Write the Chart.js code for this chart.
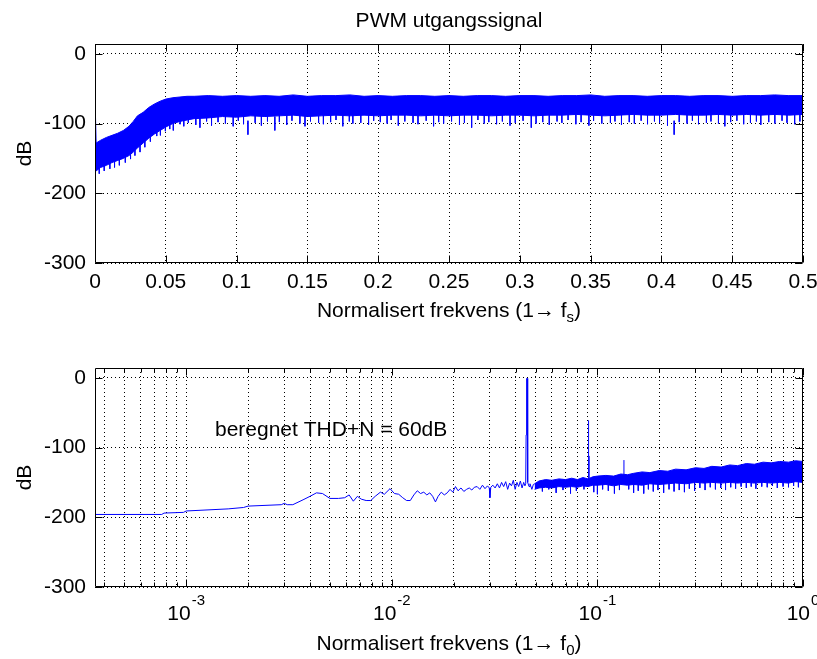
<!DOCTYPE html>
<html>
<head>
<meta charset="utf-8">
<script src="https://cdn.jsdelivr.net/npm/chart.js@4/dist/chart.umd.min.js"></script>
<style>
    body { margin: 0; background: #fff; }
    canvas { position: absolute; left: 0; }
    #spectrum { top: 0; }
    #thd { top: 330px; }
</style>
</head>
<body>
<canvas id="spectrum" width="817" height="330"></canvas>
<canvas id="thd" width="817" height="329"></canvas>
<script>
//Data

// top plot: noise band (upper / lower edge), normalised to fs
var topFreq = [0, 0.0008, 0.004, 0.008, 0.012, 0.016, 0.02, 0.024, 0.027, 0.03, 0.034, 0.038, 0.042, 0.046, 0.05, 0.055, 0.06, 0.065, 0.07,
    0.08, 0.09, 0.1, 0.11, 0.12, 0.13, 0.14, 0.15, 0.16, 0.17, 0.18, 0.19, 0.2, 0.21, 0.22, 0.23, 0.24, 0.25, 0.26, 0.27, 0.28, 0.29,
    0.3, 0.31, 0.32, 0.33, 0.34, 0.35, 0.36, 0.37, 0.38, 0.39, 0.4, 0.41, 0.42, 0.43, 0.44, 0.45, 0.46, 0.47, 0.48, 0.49, 0.5];
var topUpper = [-61, -128, -124, -120, -117, -114, -110, -104, -97, -89, -84, -77, -72, -68, -65, -63, -62, -61, -61,
    -60, -61, -60, -61, -60, -61, -59, -61, -60, -60, -59, -61, -60, -61, -60, -60, -61, -60, -61, -60, -60, -61,
    -60, -60, -61, -60, -60, -59, -61, -60, -60, -61, -60, -60, -61, -60, -60, -61, -60, -60, -59, -60, -60];
var topLower = [-166, -168, -163, -160, -156, -153, -150, -146, -141, -135, -128, -121, -115, -110, -105, -100, -97, -95, -93,
    -92, -90, -91, -89, -90, -89, -88, -90, -89, -88, -89, -88, -89, -88, -88, -89, -88, -89, -88, -88, -89, -88,
    -88, -89, -88, -88, -87, -88, -89, -88, -87, -88, -88, -87, -88, -88, -87, -88, -87, -88, -87, -88, -87];

// top plot: single downward spikes below the band
var topDipFreq = [0.003, 0.0065, 0.0105, 0.0138, 0.0172, 0.0214, 0.0251, 0.0282, 0.0318, 0.0352,
    0.0391, 0.0436, 0.0462, 0.0497, 0.0528, 0.0553, 0.0601, 0.0627, 0.0659, 0.0712,
    0.0741, 0.0788, 0.0823, 0.0869, 0.0921, 0.0976, 0.1012, 0.1049, 0.108, 0.1131,
    0.1175, 0.1218, 0.127, 0.1302, 0.1354, 0.1391, 0.1447, 0.1483, 0.1522, 0.1579,
    0.1613, 0.1664, 0.1702, 0.175, 0.1796, 0.1821, 0.1877, 0.1932, 0.1968, 0.2015,
    0.2063, 0.2091, 0.2142, 0.2188, 0.2246, 0.2281, 0.2339, 0.2391, 0.2427, 0.2462,
    0.2518, 0.2574, 0.2609, 0.266, 0.2704, 0.2749, 0.2781, 0.2836, 0.2877, 0.2931,
    0.2968, 0.3023, 0.3081, 0.3115, 0.3162, 0.3208, 0.3263, 0.3297, 0.3341, 0.3396,
    0.3433, 0.3488, 0.3521, 0.3579, 0.364, 0.3672, 0.3718, 0.3773, 0.3809, 0.3857,
    0.3902, 0.3951, 0.3987, 0.4043, 0.409, 0.4126, 0.4181, 0.4219, 0.4262, 0.4318,
    0.435, 0.4403, 0.4448, 0.4489, 0.4533, 0.4581, 0.4629, 0.4671, 0.4702, 0.4758,
    0.4801, 0.4852, 0.4887, 0.4941, 0.4978];
var topDipDb = [-172, -168, -165, -163, -160, -156, -151, -146, -141, -134,
    -126, -118, -117, -111, -108, -110, -101, -104, -99, -102,
    -106, -97, -103, -98, -100, -104, -96, -101, -116, -99,
    -103, -97, -110, -98, -102, -96, -100, -104, -97, -99,
    -101, -98, -95, -104, -97, -100, -99, -102, -96, -98,
    -100, -95, -103, -97, -99, -101, -96, -104, -98, -100,
    -97, -102, -99, -106, -95, -100, -98, -101, -97, -103,
    -99, -96, -106, -100, -98, -102, -97, -99, -95, -101,
    -98, -103, -96, -100, -99, -97, -102, -98, -100, -96,
    -101, -97, -99, -103, -116, -98, -100, -96, -101, -99,
    -97, -100, -104, -98, -96, -101, -99, -97, -102, -98,
    -100, -96, -99, -101, -97];

// bottom plot: thin line below the fundamental (normalised to f0)
var lowFreq = [3.6e-4, 7.6e-4, 7.8e-4, 9.7e-4, 1.0e-3, 1.6e-3, 1.9e-3, 2.0e-3, 2.9e-3, 3.0e-3, 3.1e-3, 3.3e-3, 3.7e-3, 4.0e-3,
    4.3e-3, 4.6e-3, 5.0e-3, 5.5e-3, 5.9e-3, 6.2e-3, 6.5e-3, 6.8e-3, 7.1e-3, 7.5e-3, 7.9e-3, 8.3e-3, 8.8e-3, 9.2e-3, 9.8e-3,
    0.0103, 0.0108, 0.0113, 0.0118, 0.0123, 0.0128, 0.0133, 0.0138, 0.0143, 0.0148, 0.0153, 0.0158, 0.0163, 0.0168, 0.0174,
    0.018, 0.0186, 0.0192, 0.0198, 0.0204, 0.021, 0.0217, 0.0224, 0.0231, 0.0238, 0.0245, 0.0252, 0.026, 0.0268, 0.0276,
    0.0284, 0.0292, 0.0298, 0.03, 0.0303, 0.031, 0.0318, 0.0326, 0.0334, 0.0342, 0.035, 0.0358, 0.0366, 0.0374, 0.0382,
    0.039, 0.0398, 0.0406, 0.0414, 0.0422, 0.043, 0.0438, 0.0444, 0.0448, 0.045, 0.0452, 0.0453, 0.0457, 0.0458, 0.0465,
    0.047, 0.048, 0.0488, 0.0495];
var lowDb = [-196, -196, -194, -193, -191, -188, -186, -184, -182, -180, -182, -182, -175, -170,
    -165, -166, -173, -173, -172, -168, -177, -170, -174, -176, -176, -170, -164, -167, -159,
    -166, -167, -172, -176, -176, -168, -162, -166, -164, -168, -165, -170, -178, -170, -164,
    -168, -165, -160, -164, -156, -162, -158, -163, -160, -158, -161, -157, -156, -160, -154,
    -159, -155, -158, -172, -157, -154, -158, -152, -158, -150, -156, -149, -160, -151, -155,
    -147, -160, -150, -156, -148, -158, -150, -155, -152, -82, -82, -1, -1, -150, -156,
    -152, -160, -153, -152];

// bottom plot: noise band above the fundamental
var bandFreq = [0.0495, 0.052, 0.056, 0.06, 0.065, 0.07, 0.075, 0.08, 0.085, 0.09, 0.095, 0.1, 0.11, 0.12, 0.13, 0.14, 0.15,
    0.165, 0.18, 0.2, 0.22, 0.24, 0.27, 0.3, 0.33, 0.36, 0.4, 0.44, 0.48, 0.53, 0.58, 0.64, 0.7, 0.77, 0.85, 0.92, 1.0];
var bandUpper = [-152, -148, -146, -147, -145, -146, -144, -146, -143, -145, -142, -141, -140, -141, -138, -139, -137,
    -135, -136, -133, -134, -131, -132, -129, -130, -127, -128, -125, -126, -123, -124, -121, -122, -120, -121, -119, -120];
var bandLower = [-160, -158, -157, -158, -156, -157, -156, -157, -155, -156, -154, -154, -153, -155, -153, -154, -153,
    -154, -152, -153, -152, -151, -152, -150, -151, -150, -151, -150, -151, -150, -151, -150, -151, -150, -151, -149, -150];

// bottom plot: harmonics and dips sticking out of the band
var markFreq = [0.0906, 0.0912, 0.1346, 0.054, 0.058, 0.063, 0.068, 0.074, 0.079, 0.086, 0.096, 0.1, 0.106, 0.113, 0.121, 0.128,
    0.142, 0.15, 0.158, 0.168, 0.177, 0.187, 0.197, 0.21, 0.223, 0.236, 0.25, 0.265, 0.28, 0.297, 0.315, 0.334, 0.354, 0.375,
    0.398, 0.42, 0.445, 0.47, 0.5, 0.53, 0.56, 0.59, 0.63, 0.67, 0.71, 0.75, 0.8, 0.85, 0.9, 0.95];
var markDb = [-61, -112, -118, -163, -160, -165, -161, -166, -162, -160, -164, -167, -160, -162, -166, -161,
    -160, -165, -162, -166, -160, -163, -161, -165, -160, -163, -161, -164, -159, -162, -158, -161, -157, -160,
    -158, -161, -157, -159, -156, -158, -156, -159, -156, -157, -155, -158, -156, -157, -155, -157];

// axes
var linTicks = [0, 0.05, 0.1, 0.15, 0.2, 0.25, 0.3, 0.35, 0.4, 0.45, 0.5];
var logTicks = [4e-4, 5e-4, 6e-4, 7e-4, 8e-4, 9e-4, 1e-3, 2e-3, 3e-3, 4e-3, 5e-3, 6e-3, 7e-3, 8e-3, 9e-3,
    1e-2, 2e-2, 3e-2, 4e-2, 5e-2, 6e-2, 7e-2, 8e-2, 9e-2, 0.1, 0.2, 0.3, 0.4, 0.5, 0.6, 0.7, 0.8, 0.9, 1];
var dbTicks = [-300, -200, -100, 0];

var blue = "#0000ff";
var family = '"Liberation Sans", Arial, Helvetica, sans-serif';
var big = "21px " + family;
var small = "15px " + family;

function pairs(xs, ys) {
    return xs.map(function(x, i) {
        return { x: x, y: ys[i] };
    });
}

// vertical strokes: base -> tip, broken by a null
function stems(xs, tips, baseOf) {
    var out = [];
    xs.forEach(function(x, i) {
        out.push({ x: x, y: baseOf(tips[i]) });
        out.push({ x: x, y: tips[i] });
        out.push({ x: x, y: null });
    });
    return out;
}

function isPow10(v) {
    var l = Math.log10(v);
    return Math.abs(l - Math.round(l)) < 1e-9;
}

//Frame, inward ticks and labels (MATLAB look)

var matlabFrame = {
    id: "matlabFrame",
    afterDraw: function(chart, args, opts) {
        var ctx = chart.ctx;
        var a = chart.chartArea;
        var xs = chart.scales.x;
        var ys = chart.scales.y;
        var L = Math.round(a.left) + 0.5, R = Math.round(a.right) - 0.5;
        var T = Math.round(a.top) + 0.5, B = Math.round(a.bottom) - 0.5;

        ctx.save();
        ctx.strokeStyle = "#000";
        ctx.lineWidth = 1;
        ctx.beginPath();
        ctx.rect(L, T, R - L, B - T);

        xs.ticks.forEach(function(t) {
            var px = Math.round(xs.getPixelForValue(t.value)) + 0.5;
            var len = (opts.log && !isPow10(t.value)) ? 4 : 7;
            ctx.moveTo(px, B); ctx.lineTo(px, B - len);
            ctx.moveTo(px, T); ctx.lineTo(px, T + len);
        });
        ys.ticks.forEach(function(t) {
            var py = Math.round(ys.getPixelForValue(t.value)) + 0.5;
            ctx.moveTo(L, py); ctx.lineTo(L + 7, py);
            ctx.moveTo(R, py); ctx.lineTo(R - 7, py);
        });
        ctx.stroke();

        ctx.fillStyle = "#000";
        ctx.textBaseline = "alphabetic";

        // log axis labels 10^n
        if (opts.log) {
            xs.ticks.forEach(function(t) {
                if (!isPow10(t.value)) return;
                var px = xs.getPixelForValue(t.value);
                var ex = String(Math.round(Math.log10(t.value)));
                ctx.font = big;
                var w1 = ctx.measureText("10").width;
                ctx.font = small;
                var w2 = ctx.measureText(ex).width;
                var x0 = px - (w1 + w2 + 1) / 2;
                ctx.font = big;
                ctx.textAlign = "left";
                ctx.fillText("10", x0, opts.tickBase);
                ctx.font = small;
                ctx.fillText(ex, x0 + w1 + 1, opts.tickBase - 15);
            });
        }

        // title
        if (opts.title) {
            ctx.font = big;
            ctx.textAlign = "center";
            ctx.fillText(opts.title, (a.left + a.right) / 2, opts.titleBase);
        }

        // x label with subscript
        ctx.font = big;
        var main = "Normalisert frekvens (1\u2192 f";
        var wm = ctx.measureText(main).width;
        ctx.font = small;
        var ws = ctx.measureText(opts.sub).width;
        ctx.font = big;
        var wc = ctx.measureText(")").width;
        var sx = (a.left + a.right) / 2 - (wm + ws + wc) / 2;
        ctx.textAlign = "left";
        ctx.fillText(main, sx, opts.xLabelBase);
        ctx.font = small;
        ctx.fillText(opts.sub, sx + wm, opts.xLabelBase + 5);
        ctx.font = big;
        ctx.fillText(")", sx + wm + ws, opts.xLabelBase);

        // y label
        ctx.save();
        ctx.translate(31, (a.top + a.bottom) / 2);
        ctx.rotate(-Math.PI / 2);
        ctx.textAlign = "center";
        ctx.font = big;
        ctx.fillText("dB", 0, 0);
        ctx.restore();

        // annotation
        if (opts.note) {
            ctx.font = big;
            ctx.textAlign = "left";
            ctx.fillText(opts.note.text, xs.getPixelForValue(opts.note.x), ys.getPixelForValue(opts.note.y));
        }
        ctx.restore();
    }
};

function yScale() {
    return {
        type: "linear",
        min: -300,
        max: 14,
        afterBuildTicks: function(s) {
            s.ticks = dbTicks.map(function(v) { return { value: v }; });
        },
        afterFit: function(s) { s.width = 95; },
        ticks: {
            color: "#000",
            padding: 9,
            font: { size: 21, family: family },
            callback: function(v) { return String(v); }
        },
        grid: { color: "#000", lineWidth: 1, drawTicks: false },
        border: { display: false, dash: [1, 3] }
    };
}

function lineSet(data, fill) {
    return {
        data: data,
        borderColor: blue,
        backgroundColor: blue,
        borderWidth: 1,
        pointRadius: 0,
        fill: fill,
        tension: 0,
        spanGaps: false
    };
}

//PWM spectrum, linear axis

var spectrumChart = new Chart(document.getElementById("spectrum"), {
    type: "line",
    data: {
        datasets: [
            lineSet(pairs(topFreq, topUpper), "+1"),
            lineSet(pairs(topFreq, topLower), false),
            lineSet(stems(topDipFreq, topDipDb, function(v) { return v + 20; }), false)
        ]
    },
    options: {
        responsive: false,
        animation: false,
        layout: { padding: { top: 44, right: 14, left: 0, bottom: 0 } },
        plugins: {
            legend: { display: false },
            tooltip: { enabled: false },
            matlabFrame: { title: "PWM utgangssignal", titleBase: 27, xLabelBase: 317, sub: "s" }
        },
        scales: {
            x: {
                type: "linear",
                min: 0,
                max: 0.5,
                afterBuildTicks: function(s) {
                    s.ticks = linTicks.map(function(v) { return { value: v }; });
                },
                afterFit: function(s) {
                    s.height = 67;
                    s.paddingLeft = 0;
                    s.paddingRight = 0;
                },
                ticks: {
                    color: "#000",
                    padding: 7,
                    maxRotation: 0,
                    autoSkip: false,
                    font: { size: 21, family: family },
                    callback: function(v) { return String(+v.toFixed(2)); }
                },
                grid: { color: "#000", lineWidth: 1, drawTicks: false },
                border: { display: false, dash: [1, 3] }
            },
            y: yScale()
        }
    },
    plugins: [matlabFrame]
});

//THD+N spectrum, log axis

var thdChart = new Chart(document.getElementById("thd"), {
    type: "line",
    data: {
        datasets: [
            lineSet(pairs(lowFreq, lowDb), false),
            lineSet(pairs(bandFreq, bandUpper), "+1"),
            lineSet(pairs(bandFreq, bandLower), false),
            lineSet(stems(markFreq, markDb, function() { return -150; }), false)
        ]
    },
    options: {
        responsive: false,
        animation: false,
        layout: { padding: { top: 38, right: 14, left: 0, bottom: 0 } },
        plugins: {
            legend: { display: false },
            tooltip: { enabled: false },
            matlabFrame: {
                log: true,
                tickBase: 290,
                xLabelBase: 320,
                sub: "0",
                note: { text: "beregnet THD+N = 60dB", x: 1.38e-3, y: -84 }
            }
        },
        scales: {
            x: {
                type: "logarithmic",
                min: 3.6e-4,
                max: 1,
                afterBuildTicks: function(s) {
                    s.ticks = logTicks.map(function(v) { return { value: v }; });
                },
                afterFit: function(s) {
                    s.height = 72;
                    s.paddingLeft = 0;
                    s.paddingRight = 0;
                },
                ticks: { display: false, autoSkip: false },
                grid: { color: "#000", lineWidth: 1, drawTicks: false },
                border: { display: false, dash: [1, 3] }
            },
            y: yScale()
        }
    },
    plugins: [matlabFrame]
});
</script>
</body>
</html>
